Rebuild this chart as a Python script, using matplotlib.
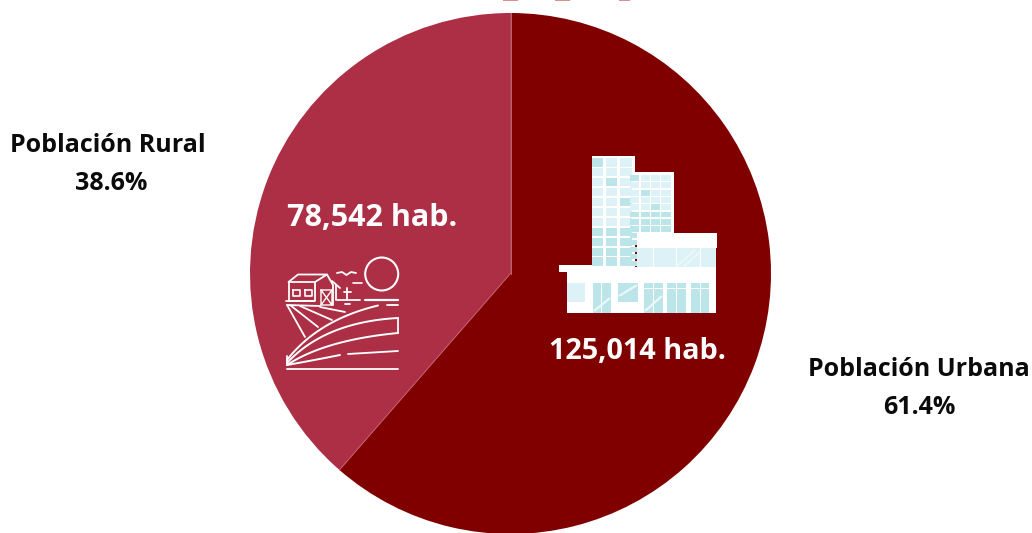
import numpy as np
import matplotlib
matplotlib.use("Agg")
import matplotlib.pyplot as plt
from matplotlib.patches import Rectangle, Circle

categories = ["Población Rural", "Población Urbana"]
shares = [38.6, 61.4]
inhabitants = ["78,542 hab.", "125,014 hab."]
colors = ["#AC2F45", "#800000"]

W, H = 1032, 533
fig = plt.figure(figsize=(W / 100, H / 100), dpi=100)
ax = fig.add_axes([0, 0, 1, 1])
FONT = ["Open Sans", "DejaVu Sans"]

wedges, _ = ax.pie(shares, colors=colors, startangle=-90, counterclock=False,
                   center=(510.5, 273.5), radius=260.5, frame=True,
                   wedgeprops=dict(linewidth=0))
ax.set_xlim(0, W)
ax.set_ylim(H, 0)
ax.set_aspect("auto")
ax.axis("off")

# thin pale divider between slices
theta = np.deg2rad(shares[0] / 100 * 360)
for tx, ty in [(510.5 - 260.5 * np.sin(theta), 273.5 - 260.5 * np.cos(theta)), (510.5, 13)]:
    ax.plot([510.5, tx], [273.5, ty], color="#C4606F", lw=0.7, zorder=3)

# clipped marks at the very top of the picture
for x0, x1 in [(503, 518), (555, 570), (619, 630)]:
    ax.add_patch(Rectangle((x0, 0), x1 - x0, 1.3, color="#D98F8F", lw=0, zorder=3))

# labels
lab = dict(ha="center", va="center", fontsize=18, fontweight="bold", family=FONT, color="#0b0b0b")
ax.text(108, 146, categories[0], **lab)
ax.text(111, 184, f"{shares[0]}%", **lab)
ax.text(919, 370, categories[1], **lab)
ax.text(919.5, 408, f"{shares[1]}%", **lab)
val = dict(ha="center", va="center", fontweight="bold", family=FONT, color="white", zorder=5)
ax.text(372, 217.5, inhabitants[0], fontsize=22, **val)
ax.text(637.5, 351.5, inhabitants[1], fontsize=20.8, **val)

# ---- building icon ----
GLASS = "#DDF2F6"; GLASS2 = "#BCE5EA"
def rect(x0, y0, x1, y1, c="white", z=4):
    ax.add_patch(Rectangle((x0, y0), x1 - x0, y1 - y0, facecolor=c, edgecolor="none", zorder=z))

def grid(xs, y0, y1, ny, gap=1.4, dark_from=None):
    h = (y1 - y0 - gap * (ny - 1)) / ny
    for j in range(ny):
        for i, (a, b) in enumerate(xs):
            c = GLASS2 if (dark_from is not None and j >= dark_from) or (i + 3 * j) % 7 == 0 else GLASS
            yy = y0 + j * (h + gap)
            rect(a, yy, b, yy + h, c, 5)

def streak(x0, y0, x1, y1):
    ax.plot([x0, x1], [y0, y1], color="#EAF8FA", lw=1.6, zorder=6, solid_capstyle="butt")

rect(592, 156, 635, 267)
rect(627, 172, 674, 240)
grid([(592, 603), (606, 617), (619.5, 632)], 158, 266, 11, dark_from=7)
rect(627, 172, 674, 233)
grid([(630, 639), (641, 650), (651, 660), (661, 671)], 175, 232, 8, dark_from=5)
grid([(629.5, 637)], 233, 266, 5, dark_from=0)
rect(637, 233, 717, 248)
rect(637, 248, 716, 267, GLASS)
for xs in [653, 676, 700]:
    rect(xs, 248, xs + 1, 267)
streak(677, 266, 695, 250)
streak(684, 266, 700, 252)
rect(559, 265, 592, 272)
rect(567, 267, 716, 313)
rect(567, 283, 585, 302, GLASS)
rect(593, 283, 611, 313, GLASS2)
rect(618, 283, 638, 302, GLASS2)
rect(644, 283, 663, 313, GLASS2)
rect(667, 283, 686, 313, GLASS2)
rect(691, 283, 709, 313, GLASS2)
for xs in [601, 653, 676, 700]:
    rect(xs, 283, xs + 1, 313)
for x0 in [644, 667, 691]:
    rect(x0, 288, x0 + 19, 289)
streak(594, 311, 610, 298)
streak(619, 296, 637, 285)
streak(645, 311, 662, 296)

# ---- farm icon ----
def line(xs, ys, lw=1.3):
    ax.plot(xs, ys, color="white", lw=lw, zorder=5, solid_capstyle="round", solid_joinstyle="round")

ax.add_patch(Circle((381.7, 274), 16.5, fill=False, edgecolor="white", lw=1.5, zorder=5))
# house
line([288.5, 288.5, 315, 315, 288.5], [282, 301, 301, 282, 282])
line([288.5, 298, 327, 315], [282, 274.5, 274.5, 282])
line([327, 333, 333], [274.5, 285, 305])
for x0 in [293, 305]:
    line([x0, x0 + 6.5, x0 + 6.5, x0, x0], [290, 290, 296, 296, 290], 1.2)
line([321, 332, 332, 321, 321, 332], [290, 290, 305, 305, 290, 305], 1.0)
line([332, 321], [290, 305], 1.0)
# horizon, birds, mill
line([286, 314], [301, 301])
line([337, 360], [300, 300])
line([365, 398], [300, 300], 1.6)
line([387, 398], [305, 305])
line([345, 350], [304, 304])
line([337, 342, 346.5, 351, 356], [273, 272, 275, 272, 273], 1.3)
line([353, 361.5], [282.5, 282.5], 1.2)
line([347, 347], [288, 299])
line([344, 351], [291.5, 291.5])
line([332, 340], [281, 288])
line([336, 336], [285, 300])
# fields
line([287, 305], [305, 337])
line([290, 318], [305, 327])
line([300, 332], [306, 320])
line([320, 345], [307, 312])
line([287, 320], [305, 306])
t = np.linspace(0, 1, 30)
def curve(x0, y0, cx, cy, x1, y1, lw=1.4):
    line((1 - t) ** 2 * x0 + 2 * t * (1 - t) * cx + t ** 2 * x1,
         (1 - t) ** 2 * y0 + 2 * t * (1 - t) * cy + t ** 2 * y1, lw)
curve(287, 360, 318, 320, 378, 305.5)
curve(287, 363, 325, 322, 398, 318)
curve(287, 365, 325, 340, 398, 333)
curve(287, 365, 315, 360, 340, 355)
line([348, 398], [354, 351])
line([398, 398], [318, 333])
line([287, 287], [356, 365])
line([287, 398], [369, 369])

fig.savefig("out.png", dpi=100, facecolor="white")
